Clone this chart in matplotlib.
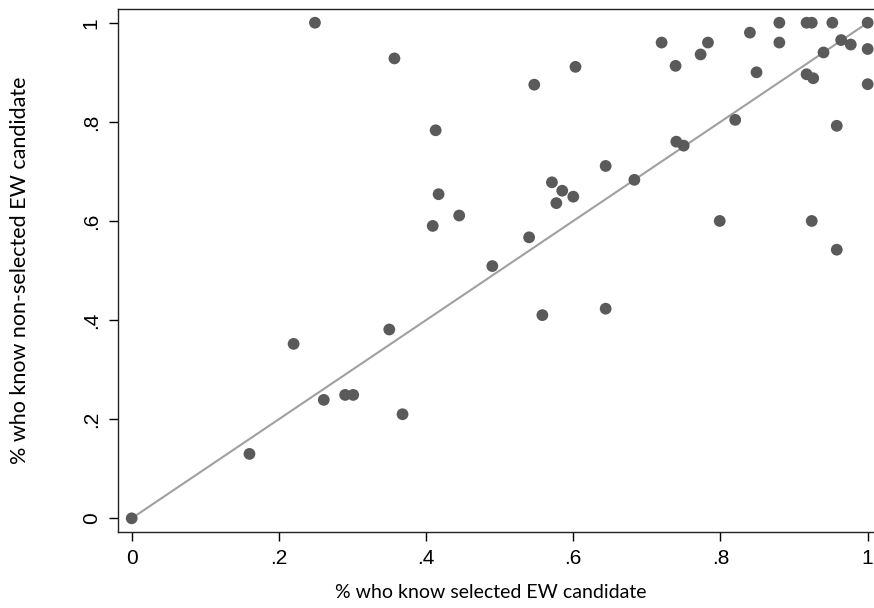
import matplotlib
matplotlib.use('Agg')
import matplotlib.pyplot as plt

# Share of respondents who know the selected / non-selected EW candidate
known_selected = [0.0, 0.16, 0.22, 0.261, 0.290, 0.301, 0.249, 0.357, 0.413, 0.417,
                  0.445, 0.409, 0.490, 0.350, 0.368, 0.558, 0.644, 0.540, 0.603, 0.547,
                  0.571, 0.585, 0.600, 0.577, 0.644, 0.683, 0.799, 0.740, 0.750, 0.720,
                  0.739, 0.773, 0.783, 0.840, 0.880, 0.880, 0.849, 0.917, 0.924, 0.952,
                  1.0, 0.964, 0.977, 0.940, 1.0, 0.917, 0.926, 1.0, 0.820, 0.958,
                  0.924, 0.958]
known_nonselected = [0.0, 0.13, 0.352, 0.239, 0.249, 0.249, 1.0, 0.928, 0.783, 0.654,
                     0.611, 0.590, 0.509, 0.381, 0.210, 0.410, 0.423, 0.567, 0.911, 0.875,
                     0.678, 0.661, 0.649, 0.636, 0.711, 0.683, 0.600, 0.760, 0.752, 0.960,
                     0.913, 0.936, 0.960, 0.980, 1.0, 0.960, 0.900, 1.0, 1.0, 1.0,
                     1.0, 0.965, 0.956, 0.940, 0.947, 0.896, 0.888, 0.876, 0.804, 0.792,
                     0.600, 0.542]

ticks = [0, 0.2, 0.4, 0.6, 0.8, 1]
tick_labels = ['0', '.2', '.4', '.6', '.8', '1']

fig = plt.figure(figsize=(8.74, 6.08), dpi=100)
ax = fig.add_axes([118 / 874, 76 / 608, 756 / 874, 523 / 608])

# 45 degree reference line
ax.plot([0, 1], [0, 1], color='#a0a0a0', lw=1.5, zorder=2)
ax.scatter(known_selected, known_nonselected, s=72, color='#5a5a5a',
           edgecolors='none', zorder=3)

ax.set_xlim(-0.0186, 1.0086)
ax.set_ylim(-0.0276, 1.0277)
ax.spines['right'].set_visible(False)
for side in ['left', 'bottom', 'top']:
    ax.spines[side].set_linewidth(1.0)
    ax.spines[side].set_color('#222222')

ax.set_xticks(ticks)
ax.set_xticklabels(tick_labels, fontsize=15, family='Liberation Sans')
ax.set_yticks(ticks)
ax.set_yticklabels(tick_labels, fontsize=15, family='Liberation Sans',
                   rotation=90, va='center')
ax.tick_params(direction='out', length=6.5, width=1, pad=6)

ax.set_xlabel('% who know selected EW candidate', fontsize=14,
              family='Lato', va='center')
ax.set_ylabel('% who know non-selected EW candidate', fontsize=15.5,
              family='Lato', va='center')
ax.xaxis.set_label_coords((491 - 118) / 756, (532 - 592) / 523)
ax.yaxis.set_label_coords((20 - 118) / 756, (532 - 270) / 523)

plt.savefig('out.png', dpi=100)
plt.close()
